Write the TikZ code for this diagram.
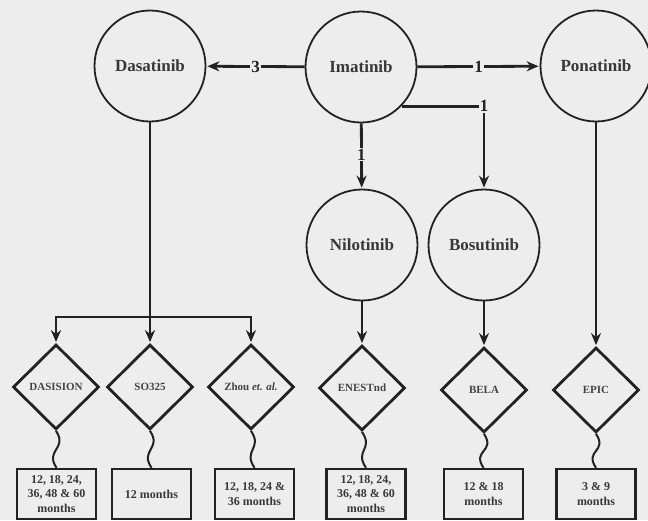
\documentclass[tikz,border=0pt]{standalone}
\usepackage{fontspec}
\setmainfont{Liberation Serif}
\usetikzlibrary{arrows.meta,shapes.geometric}
\definecolor{bgray}{RGB}{237,237,237}
\definecolor{ink}{RGB}{34,34,34}
\tikzset{
	drug/.style={circle, draw=ink, line width=1.8pt, minimum size=111pt, inner sep=0pt, font=\fontsize{17}{19}\selectfont\bfseries, text=ink!90},
	trial/.style={diamond, draw=ink, line width=2.8pt, minimum width=86pt, minimum height=85pt, inner sep=0pt, font=\fontsize{11}{13}\selectfont\bfseries, text=ink!85},
	period/.style={rectangle, draw=ink, line width=2.4pt, minimum width=79pt, minimum height=50pt, inner sep=1pt, align=center, font=\fontsize{12}{14.5}\selectfont\bfseries, text=ink!90},
	link/.style={draw=ink, line width=2.8pt, -{Stealth[length=12pt,width=10pt]}, shorten >=1pt},
	stem/.style={draw=ink, line width=2.8pt},
	wave/.style={draw=ink, line width=2pt},
	count/.style={fill=bgray, inner sep=1pt, font=\fontsize{17}{19}\selectfont\bfseries, text=ink}
}

\begin{document}
\begin{tikzpicture}[x=1pt, y=-1pt]
			%%%%% START %%%%%
			\fill[bgray] (0, 0) rectangle (648, 520);
			\useasboundingbox (0, 0) rectangle (648, 520);
			
			% drugs
			\node[drug] (dasa) at (150, 66) {Dasatinib};
			\node[drug] (imat) at (361, 67) {Imatinib};
			\node[drug] (pona) at (596, 66) {Ponatinib};
			\node[drug] (nilo) at (362, 245) {Nilotinib};
			\node[drug] (bosu) at (484, 245) {Bosutinib};
			
			% trials
			\node[trial] (dasision) at (56, 387) {DASISION};
			\node[trial] (so) at (150, 387) {SO325};
			\node[trial] (zhou) at (251, 387) {Zhou \textit{et. al.}};
			\node[trial] (enest) at (362, 388) {ENESTnd};
			\node[trial] (bela) at (484, 390) {BELA};
			\node[trial] (epic) at (596, 390) {EPIC};
			
			% follow-up
			\node[period] (pdasision) at (56.5, 494) {12, 18, 24,\\36, 48 \& 60\\months};
			\node[period] (pso) at (151.5, 494) {12 months};
			\node[period] (pzhou) at (254.5, 494) {12, 18, 24 \&\\36 months};
			\node[period] (penest) at (366, 494) {12, 18, 24,\\36, 48 \& 60\\months};
			\node[period] (pbela) at (483.5, 494) {12 \& 18\\months};
			\node[period] (pepic) at (596, 494) {3 \& 9\\months};
			
			\draw[link] (imat) -- node[count] {3} (dasa);
			\draw[link] (imat) -- node[count] {1} (pona);
			\draw[link] (imat) -- node[count, pos=0.48] {1} (nilo);
			\draw[link] (imat.-44) -| node[count] {1} (bosu);
			
			\coordinate (br) at (150, 317);
			\draw[stem] (dasa) -- (br);
			\draw[link] (br) -| (dasision);
			\draw[link] (br) -- (so);
			\draw[link] (br) -| (zhou);
			\draw[link] (nilo) -- (enest);
			\draw[link] (bosu) -- (bela);
			\draw[link] (pona) -- (epic);
			
			\draw[wave] (dasision.south) .. controls +(12, 18) and +(-12, -18) .. (pdasision.north);
			\draw[wave] (so.south) .. controls +(12, 18) and +(-12, -18) .. (pso.north);
			\draw[wave] (zhou.south) .. controls +(12, 18) and +(-12, -18) .. (pzhou.north);
			\draw[wave] (enest.south) .. controls +(12, 18) and +(-12, -18) .. (penest.north);
			\draw[wave] (bela.south) .. controls +(12, 18) and +(-12, -18) .. (pbela.north);
			\draw[wave] (epic.south) .. controls +(12, 18) and +(-12, -18) .. (pepic.north);
			%%%%% END %%%%%
\end{tikzpicture}
\end{document}
